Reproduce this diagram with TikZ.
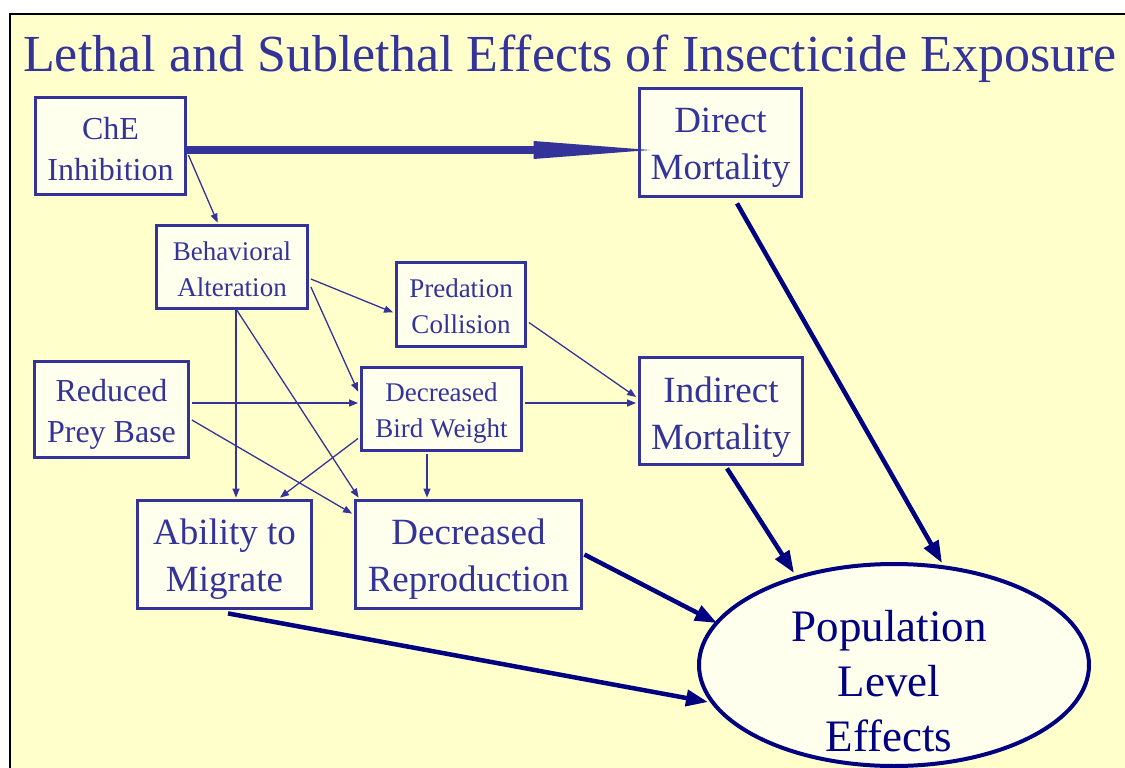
\documentclass[tikz,border=0pt]{standalone}
\usepackage{fontspec}
\setmainfont{Liberation Serif}
\usetikzlibrary{arrows.meta,shapes.geometric,calc}
\definecolor{bgyellow}{HTML}{FFFFCC}
\definecolor{boxfill}{HTML}{FFFFEE}
\definecolor{dblue}{HTML}{333399}
\definecolor{navyc}{HTML}{000080}
\begin{document}
\begin{tikzpicture}[x=1pt,y=-1pt,
  box/.style={rectangle, draw=dblue, line width=3.8pt, fill=boxfill, inner sep=0pt},
  txt/.style={text=dblue, align=center, inner sep=0pt},
  bigtxt/.style={txt, font=\fontsize{37}{47}\selectfont},
  midtxt/.style={txt, font=\fontsize{32}{41}\selectfont},
  smalltxt/.style={txt, font=\fontsize{27}{36}\selectfont},
  lnk/.style={draw=dblue, line width=1.3pt, -{Triangle[length=9pt,width=7pt]}},
  popline/.style={draw=navyc, line width=4.5pt, -{Triangle[length=22pt,width=16pt]}},
  mainline/.style={draw=dblue, line width=8pt}
]
\useasboundingbox (0,0) rectangle (1125,768);
\clip (0,0) rectangle (1125,768);
\fill[white] (0,0) rectangle (1125,768);
\draw[black, line width=2pt, fill=bgyellow] (10,14) rectangle (1150,800);

\node[anchor=base west, text=dblue, font=\fontsize{52}{60}\selectfont, inner sep=0pt] (title) at (23,71) {Lethal and Sublethal Effects of Insecticide Exposure};

% boxes
\node[box, minimum width=150pt, minimum height=97pt] (che) at (110.5,146) {};
\node[box, minimum width=162pt, minimum height=108pt] (direct) at (720.5,142.5) {};
\node[box, minimum width=151pt, minimum height=83pt] (beh) at (232,267) {};
\node[box, minimum width=129pt, minimum height=84pt] (pred) at (461,304.5) {};
\node[box, minimum width=154pt, minimum height=96pt] (red) at (111.5,409.5) {};
\node[box, minimum width=160pt, minimum height=83pt] (bw) at (441.5,409) {};
\node[box, minimum width=163pt, minimum height=107pt] (ind) at (721,411) {};
\node[box, minimum width=174pt, minimum height=108pt] (abil) at (224.5,554.5) {};
\node[box, minimum width=226pt, minimum height=108pt] (repro) at (468.5,554.5) {};
\node[ellipse, draw=navyc, line width=4pt, fill=boxfill, minimum width=390pt, minimum height=202pt, inner sep=0pt] (pop) at (894,665) {};

% box texts
\node[midtxt] (chet) at ($(che.center)+(0,3)$) {ChE\\Inhibition};
\node[bigtxt] (directt) at ($(direct.center)+(0,5)$) {Direct\\Mortality};
\node[smalltxt] (beht) at ($(beh.center)+(0,2)$) {Behavioral\\Alteration};
\node[smalltxt] (predt) at ($(pred.center)+(0,2)$) {Predation\\Collision};
\node[midtxt] (redt) at ($(red.center)+(0,5)$) {Reduced\\Prey Base};
\node[smalltxt] (bwt) at ($(bw.center)+(0,4)$) {Decreased\\Bird Weight};
\node[bigtxt] (indt) at ($(ind.center)+(0,6)$) {Indirect\\Mortality};
\node[bigtxt] (abilt) at ($(abil.center)+(0,5)$) {Ability to\\Migrate};
\node[bigtxt] (reprot) at ($(repro.center)+(0,5)$) {Decreased\\Reproduction};
\node[text=navyc, font=\fontsize{45}{55}\selectfont, align=center, inner sep=0pt] (poptxt) at ($(pop.center)+(-5,16)$) {Population\\Level\\Effects};

% thick main arrow with long tapered head
\draw[mainline] ($(che.east)+(0,4)$) -- ($(direct.west)+(-100,7.5)$);
\fill[dblue] ($(direct.west)+(-104,-1.5)$) -- ($(direct.west)+(12.5,7.5)$) -- ($(direct.west)+(-104,16.5)$) -- cycle;

% thin connectors
\draw[lnk] ($(che.east)+(1,9)$) -- ($(beh.north west)+(63,-1)$);
\draw[lnk] ($(beh.east)+(1.5,12)$) -- ($(pred.west)+(-1.5,8)$);
\draw[lnk] ($(beh.east)+(1.5,20)$) -- ($(bw.north west)+(-1.5,26)$);
\draw[lnk] ($(beh.south)+(4,0)$) -- ($(abil.north)+(11.5,-1)$);
\draw[lnk] ($(beh.south)+(5,0)$) -- ($(repro.north west)+(5,-1)$);
\draw[lnk] ($(red.east)+(1.5,-6.5)$) -- ($(bw.west)+(-1.5,-6)$);
\draw[lnk] ($(red.east)+(1.5,10.5)$) -- ($(repro.north west)+(-1.5,15)$);
\draw[lnk] ($(bw.south west)+(-1.5,-14)$) -- ($(abil.north)+(55.5,-1)$);
\draw[lnk] ($(bw.south)+(-14.5,1.5)$) -- ($(repro.north)+(-41.5,-1)$);
\draw[lnk] ($(bw.east)+(1.5,-6)$) -- ($(ind.west)+(-1.5,-8)$);
\draw[lnk] ($(pred.east)+(1.5,18)$) -- ($(ind.west)+(-1.5,-14)$);

% thick navy arrows to population
\draw[popline] ($(direct.south)+(16.5,5)$) -- ($(pop.center)+(48,-102)$);
\draw[popline] ($(ind.south)+(6,2)$) -- ($(pop.center)+(-100,-92)$);
\draw[popline] ($(repro.east)+(1,0)$) -- ($(pop.center)+(-177,-42)$);
\draw[popline] ($(abil.south)+(3.5,3)$) -- ($(pop.center)+(-186,37)$);
\end{tikzpicture}
\end{document}
